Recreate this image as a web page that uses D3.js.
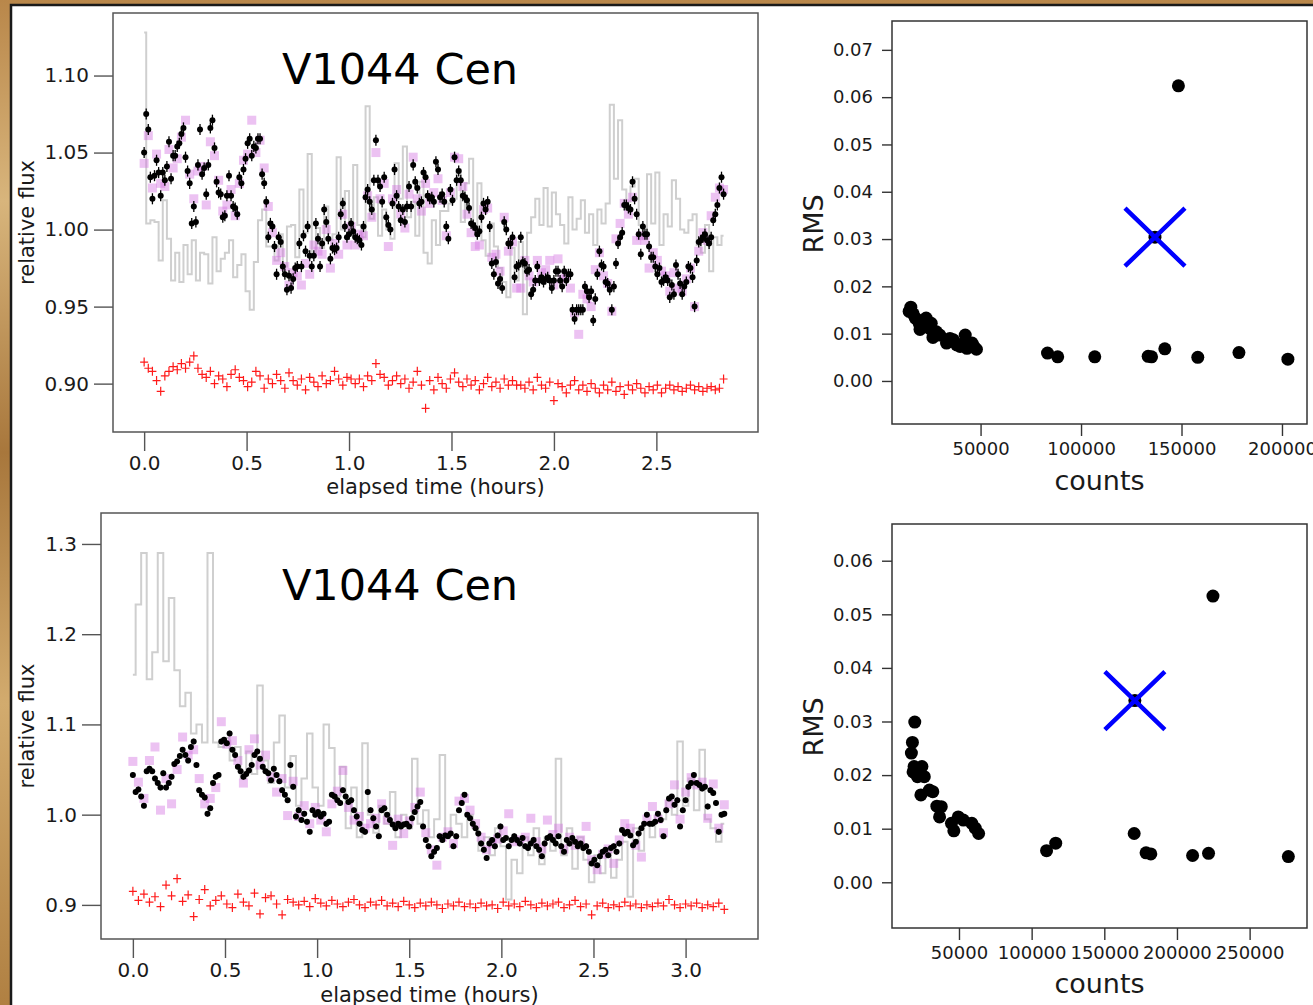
<!DOCTYPE html>
<html>
<head>
<meta charset="utf-8">
<script src="https://cdn.jsdelivr.net/npm/d3@7"></script>
<style>
  body { margin: 0; background: #fff; }
  svg text { font-family: "DejaVu Sans", sans-serif; }
</style>
</head>
<body>
<div id="chart"></div>
<script>
// ---------- Data: first night (top row) ----------
// target light curve, one value per frame
var topCadence = 0.0101;   // hours between frames
var topBlack = [
  1.050, 1.075, 1.065, 1.034, 1.020, 1.035, 1.045, 1.037, 1.022, 1.037,
  1.032, 1.041, 1.057, 1.033, 1.048, 1.048, 1.054, 1.056, 1.062, 1.066,
  1.047, 1.038, 1.030, 1.004, 1.015, 1.005, 1.042, 1.065, 1.036, 1.040,
  1.023, 1.042, 1.066, 1.071, 1.053, 1.031, 1.024, 1.023, 1.008, 1.009,
  1.022, 1.035, 1.022, 1.015, 1.014, 1.010, 1.034, 1.030, 1.039, 1.046,
  1.056, 1.059, 1.048, 1.054, 1.053, 1.059, 1.059, 1.036, 1.030, 1.018,
  0.995, 1.004, 1.002, 0.989, 0.971, 0.995, 0.992, 0.976, 0.971, 0.961,
  0.970, 0.962, 0.968, 0.975, 0.976, 0.991, 0.976, 0.996, 0.986, 1.002,
  0.983, 0.976, 0.983, 1.004, 0.994, 0.976, 0.991, 1.013, 1.005, 0.994,
  0.981, 0.988, 0.987, 0.988, 0.995, 1.010, 1.017, 1.002, 0.995, 0.997,
  1.004, 0.999, 0.995, 0.994, 0.993, 0.990, 1.002, 1.021, 1.026, 1.018,
  1.013, 1.032, 1.058, 1.032, 1.028, 1.018, 1.034, 1.008, 1.003, 1.000,
  1.017, 1.039, 1.022, 1.015, 1.006, 1.013, 1.005, 1.015, 1.028, 1.015,
  1.042, 1.031, 1.027, 1.017, 1.018, 1.037, 1.034, 1.022, 1.020, 1.021,
  1.018, 1.044, 1.039, 1.021, 1.023, 1.018, 1.002, 0.994, 1.026, 1.019,
  1.047, 1.032,
  1.038, 1.032, 1.022, 1.021, 1.019, 1.014, 1.004, 1.003, 1.001, 0.997,
  0.999, 1.008, 1.017, 1.013, 1.018, 1.002, 0.978, 0.971, 0.979, 0.965,
  0.968, 0.962, 1.005, 1.000, 0.991, 0.991, 0.995, 0.969, 0.976, 0.977,
  0.995, 0.979, 0.978, 0.973, 0.974, 0.958, 0.961, 0.967, 0.976, 0.967,
  0.969, 0.966, 0.968, 0.969, 0.967, 0.962, 0.967, 0.973, 0.973, 0.967,
  0.963, 0.973, 0.967, 0.971, 0.971, 0.948, 0.942, 0.948, 0.948, 0.948,
  0.948, 0.963, 0.960, 0.956, 0.960, 0.941, 0.955, 0.971, 0.986, 0.977,
  0.976, 0.966, 0.965, 0.961, 0.948, 0.963, 0.978, 0.991, 0.995, 0.998,
  1.016, 1.016, 1.014, 1.013, 1.031, 1.020, 1.010, 0.997, 0.984, 1.002,
  0.997, 0.997, 0.989, 0.982, 0.982, 0.976, 0.971, 0.975, 0.966, 0.967,
  0.969, 0.967, 0.956, 0.964, 0.958, 0.977, 0.971, 0.965, 0.958, 0.963,
  0.966, 0.976, 0.975, 0.969, 0.950, 0.980, 0.992, 0.993, 0.995, 0.997,
  0.993, 0.991, 0.995, 1.006, 1.010, 1.016, 1.027, 1.034, 1.023
];
// the other series are sampled every second frame
var topCoarse = 0.0202;
var topMagenta = [
  1.043, 1.061, 1.027, 1.049, 1.030, 1.028, 1.052, 1.040, 1.046, 1.060,
  1.071, 1.036, 1.020, 1.038, 1.041, 1.016, 1.057, 1.048, 1.032, 1.012,
  1.016, 1.026, 1.009, 1.030, 1.045, 1.049, 1.071, 1.050, 1.058, 1.040,
  1.015, 0.998, 0.980, 0.985, 0.976, 0.964, 0.972, 0.970, 0.964, 0.978,
  0.971, 0.990, 0.986, 0.984, 1.000, 0.975, 0.991, 0.984, 1.010, 0.990,
  1.002, 0.990, 0.997, 0.996, 1.022, 1.008, 1.050, 1.020, 1.030, 0.989,
  1.020, 1.026, 1.010, 1.001, 1.023, 1.047, 1.020, 1.012, 1.030, 1.017,
  1.024, 1.033, 1.019, 0.996, 1.024, 1.047,
  1.046, 1.028, 1.010, 0.998, 0.989, 0.990, 1.013, 1.014, 0.982, 0.984,
  0.973, 1.008, 0.986, 0.992, 0.962, 0.962, 0.980, 0.970, 0.966, 0.980,
  0.972, 0.974, 0.980, 0.964, 0.981, 0.968, 0.970, 0.962, 0.946, 0.932,
  0.958, 0.955, 0.950, 0.974, 0.985, 0.970, 0.965, 0.947, 0.994, 1.004,
  1.017, 1.010, 1.021, 0.993, 0.996, 0.993, 0.975, 0.985, 0.980, 0.973,
  0.970, 0.960, 0.972, 0.962, 0.960, 0.968, 0.975, 0.950, 0.986, 0.998,
  0.993, 1.009, 1.021, 1.027, 1.026
];
var topGray = [
  1.128, 1.004, 1.006, 1.005, 0.980, 1.019, 0.994, 0.967, 0.985, 0.966,
  0.990, 0.971, 0.993, 0.967, 0.985, 0.984, 0.965, 0.995, 0.973, 0.981,
  0.985, 0.993, 0.969, 0.977, 0.984, 0.960, 0.948, 0.979, 1.006, 1.013,
  0.989, 0.989, 0.980, 0.997, 0.976, 1.002, 1.003, 0.982, 1.026, 0.998,
  1.049, 0.985, 1.001, 0.988, 1.015, 0.993, 0.997, 1.047, 1.000, 1.025,
  0.997, 1.042, 1.003, 0.995, 1.080, 1.007, 1.021, 0.996, 1.013, 1.000,
  0.994, 1.043, 1.020, 1.054, 1.008, 1.018, 0.996, 1.031, 0.985, 0.978,
  1.006, 0.990, 1.012, 1.012, 1.017, 1.020, 1.039, 1.005, 1.030, 1.046,
  1.000, 1.030, 0.993, 0.983, 1.004, 0.989, 0.975, 0.966, 0.956, 0.988,
  0.967, 0.992, 0.945, 0.998, 1.008, 1.020, 1.003, 1.027, 1.002, 1.024,
  1.010, 1.003, 0.991, 1.021, 1.000, 1.007, 1.019, 0.998, 1.010, 0.990,
  1.013, 1.004, 1.017, 1.081, 1.033, 1.071, 1.026, 1.018, 1.028, 1.033,
  1.003, 0.994, 1.036, 1.004, 1.037, 0.990, 1.010, 1.002, 1.032, 1.020,
  1.000, 0.998, 1.006, 1.010, 0.990, 0.985, 1.003, 0.973, 0.995, 0.990,
  0.996
];
var topRed = [
  0.914, 0.910, 0.908, 0.902, 0.895, 0.905, 0.908, 0.911, 0.909, 0.913,
  0.910, 0.914, 0.918, 0.910, 0.906, 0.904, 0.908, 0.900, 0.905, 0.903,
  0.898, 0.906, 0.909, 0.904, 0.902, 0.898, 0.901, 0.908, 0.905, 0.897,
  0.903, 0.900, 0.906, 0.902, 0.897, 0.907, 0.902, 0.899, 0.903, 0.896,
  0.904, 0.901, 0.898, 0.905, 0.900, 0.902, 0.908, 0.903, 0.899, 0.904,
  0.903, 0.900, 0.903, 0.898, 0.905, 0.902, 0.913, 0.906, 0.904, 0.899,
  0.902, 0.905, 0.900, 0.903, 0.897, 0.901, 0.908, 0.899, 0.884, 0.902,
  0.896, 0.904, 0.900, 0.897, 0.903, 0.907, 0.901, 0.898, 0.903, 0.899,
  0.902, 0.896, 0.900, 0.904, 0.898, 0.901, 0.897, 0.903, 0.899, 0.902,
  0.899, 0.899, 0.897, 0.901, 0.896, 0.904, 0.899, 0.897, 0.901, 0.889,
  0.900, 0.898, 0.894, 0.899, 0.902, 0.896, 0.899, 0.895, 0.900, 0.897,
  0.894, 0.899, 0.896, 0.901, 0.895, 0.898, 0.893, 0.899, 0.896, 0.900,
  0.897, 0.894, 0.898, 0.896, 0.899, 0.894, 0.897, 0.899, 0.896, 0.898,
  0.895, 0.897, 0.899, 0.896, 0.898, 0.895, 0.897, 0.898, 0.896, 0.897,
  0.903
];

// ---------- Data: second night (bottom row) ----------
var botCadence = 0.015;
var botBlack = [
  1.044, 1.025, 1.028, 1.020, 1.010, 1.048, 1.051, 1.048, 1.040, 1.035,
  1.030, 1.046, 1.030, 1.035, 1.042, 1.056, 1.059, 1.065, 1.072, 1.066,
  1.060, 1.075, 1.081, 1.055, 1.027, 1.022, 1.019, 1.001, 1.007, 1.035,
  1.042, 1.044, 1.081, 1.083, 1.079, 1.090, 1.072, 1.066, 1.053, 1.048,
  1.042, 1.045, 1.049, 1.055, 1.066, 1.070, 1.062, 1.053, 1.048, 1.046,
  1.038, 1.051, 1.044, 1.037, 1.027, 1.022, 1.016, 1.055, 1.031, 0.998,
  1.005, 0.994, 1.001, 0.992, 0.981, 1.005, 1.000, 1.003, 0.998, 1.001,
  0.990, 0.992, 1.022, 1.020, 1.016, 1.013, 1.027, 1.020, 1.014, 1.016,
  1.005, 0.998, 0.990, 0.983, 0.981, 1.025, 1.005, 0.996, 0.987, 0.976,
  1.005, 1.007, 1.000, 0.994, 0.989, 0.985, 0.990, 0.987, 0.989, 0.990,
  0.987, 0.996, 1.003, 1.009, 1.014, 0.987, 0.972, 0.965, 0.954, 0.959,
  0.963, 0.976, 0.972, 0.977, 0.976, 0.979, 0.965, 0.976, 1.005, 1.013,
  1.022, 1.000, 0.996, 0.990, 0.985, 0.979, 0.968, 0.961, 0.952, 0.968,
  0.972, 0.965, 0.977, 0.987, 0.972, 0.974, 0.965, 0.972, 0.976, 0.972,
  0.968, 0.974, 0.965, 0.963, 0.968, 0.972, 0.965, 0.961, 0.954, 0.968,
  0.974, 0.976, 0.972, 0.968, 0.976, 0.965, 0.959, 0.972, 0.968, 0.974,
  0.970, 0.965, 0.968, 0.963, 0.965, 0.959, 0.946, 0.950, 0.944, 0.954,
  0.959, 0.961, 0.955, 0.963, 0.965, 0.959, 0.968, 0.983, 0.979, 0.981,
  0.977, 0.966, 0.970, 0.979, 0.985, 0.990, 1.000, 0.990, 0.990, 0.992,
  1.001, 0.994, 0.976, 1.005, 1.018, 1.020, 1.011, 1.016, 0.987, 1.005,
  1.016, 1.031, 1.035, 1.044, 1.035, 1.033, 1.029, 1.031, 1.009, 1.027,
  1.024, 1.013, 0.981, 1.000, 1.001
];
var botCoarse = 0.03;
var botMagenta = [
  1.059, 1.036, 1.018, 1.060, 1.075, 1.005, 1.040, 1.012, 1.050, 1.086,
  1.066, 1.072, 1.040, 1.012, 1.018, 1.030, 1.103, 1.078, 1.082, 1.060,
  1.035, 1.072, 1.084, 1.055, 1.066, 1.042, 1.025, 1.040, 0.999, 1.037,
  0.998, 1.010, 0.990, 1.008, 0.994, 0.981, 1.012, 1.026, 1.049, 1.008,
  0.994, 0.998, 0.985, 0.990, 0.996, 1.012, 0.994, 0.966, 0.995, 0.979,
  0.993, 1.008, 1.025, 0.980, 0.961, 0.944, 0.975, 0.981, 0.968, 1.015,
  1.018, 1.005, 0.990, 0.975, 0.961, 0.968, 0.973, 0.982, 1.001, 0.970,
  0.972, 0.975, 0.996, 0.970, 0.962, 0.994, 0.978, 0.985, 0.962, 0.975,
  0.966, 0.972, 0.987, 0.950, 0.939, 0.956, 0.962, 0.946, 0.972, 0.990,
  0.985, 0.966, 0.953, 0.995, 1.009, 0.995, 0.980, 1.012, 1.033, 0.995,
  1.025, 1.041, 1.033, 1.036, 0.996, 1.034, 0.985, 1.011
];
var botGray = [
  1.155, 1.233, 1.290, 1.150, 1.180, 1.290, 1.170, 1.240, 1.160, 1.120,
  1.135, 1.090, 1.100, 1.080, 1.290, 1.080, 1.075, 1.085, 1.060, 1.075,
  1.040, 1.070, 1.045, 1.143, 1.060, 1.035, 1.080, 1.110, 1.030, 1.065,
  1.010, 1.040, 1.090, 1.030, 1.010, 1.100, 1.074, 1.020, 1.053, 0.985,
  1.030, 0.975, 1.079, 1.000, 0.980, 1.010, 0.990, 1.025, 0.975, 1.000,
  0.985, 1.062, 0.990, 1.005, 0.975, 0.995, 1.066, 0.980, 1.000, 0.990,
  0.975, 1.000, 0.985, 0.960, 0.975, 0.955, 0.985, 0.965, 0.906, 0.950,
  0.935, 0.975, 0.955, 0.985, 0.945, 0.975, 0.960, 1.062, 0.955, 0.985,
  0.940, 0.975, 0.950, 0.925, 0.955, 0.935, 0.960, 0.930, 0.950, 0.970,
  0.909, 0.985, 0.960, 0.990, 0.975, 1.000, 0.995, 1.015, 1.000, 1.081,
  1.010, 1.040, 1.005, 1.072, 0.995, 0.985, 0.970, 0.990
];
var botRed = [
  0.915, 0.905, 0.912, 0.903, 0.909, 0.898, 0.922, 0.910, 0.929, 0.904,
  0.911, 0.887, 0.906, 0.917, 0.899, 0.905, 0.910, 0.901, 0.897, 0.912,
  0.903, 0.899, 0.913, 0.890, 0.908, 0.910, 0.901, 0.889, 0.906, 0.903,
  0.900, 0.904, 0.898, 0.907, 0.902, 0.899, 0.905, 0.901, 0.898, 0.903,
  0.906, 0.900, 0.897, 0.903, 0.900, 0.905, 0.899, 0.902, 0.898, 0.904,
  0.900, 0.897, 0.902, 0.899, 0.903, 0.900, 0.896, 0.901, 0.899, 0.903,
  0.898, 0.901, 0.897, 0.902, 0.899, 0.900, 0.896, 0.903, 0.899, 0.901,
  0.898, 0.904, 0.900, 0.897, 0.902, 0.899, 0.901, 0.903, 0.897, 0.900,
  0.905, 0.898, 0.901, 0.889, 0.899, 0.902, 0.897, 0.900, 0.898, 0.903,
  0.899, 0.901, 0.897, 0.900, 0.898, 0.902, 0.899, 0.906, 0.900, 0.897,
  0.901, 0.899, 0.902, 0.897, 0.900, 0.898, 0.902, 0.895
];

// ---------- Data: RMS vs counts of field stars ----------
var topCounts = [15290, 14450, 16480, 17490, 18680, 19520, 19860, 21220, 22910, 23250,
  24600, 25450, 26290, 27980, 29680, 33060, 34750, 36440, 38140, 39830,
  42370, 41520, 43210, 45750, 46600, 47950, 83310, 88390, 106830, 133400,
  135090, 141690, 158100, 178580, 202940, 148460, 136790];
var topRms = [0.0156, 0.0147, 0.0142, 0.0133, 0.0129, 0.0121, 0.0109, 0.0125, 0.0133, 0.0118,
  0.0111, 0.0122, 0.0092, 0.0104, 0.0097, 0.0080, 0.0090, 0.0087, 0.0076, 0.0073,
  0.0097, 0.0080, 0.0069, 0.0080, 0.0073, 0.0067, 0.0059, 0.0051, 0.0051, 0.0052,
  0.0051, 0.0068, 0.0050, 0.0060, 0.0046, 0.0624, 0.0304];
var topTarget = [136790, 0.0304];

var botCounts = [19580, 17950, 17250, 18410, 20280, 21450, 24490, 26130, 23790, 29630,
  31970, 34770, 37810, 36640, 44820, 46460, 49500, 53000, 58840, 61180,
  63520, 19110, 110260, 116570, 170560, 178730, 182000, 210750, 221730, 276650,
  224770, 171020];
var botRms = [0.0299, 0.0261, 0.0241, 0.0206, 0.0203, 0.0197, 0.0216, 0.0197, 0.0163, 0.0172,
  0.0169, 0.0142, 0.0141, 0.0122, 0.0110, 0.0096, 0.0122, 0.0116, 0.0110, 0.0101,
  0.0091, 0.0216, 0.0059, 0.0073, 0.0091, 0.0055, 0.0053, 0.0050, 0.0054, 0.0048,
  0.0534, 0.0339];
var botTarget = [171020, 0.0339];

var starName = "V1044 Cen";

// ---------- Page ----------
var svg = d3.select("#chart").append("svg")
    .attr("width", 1313)
    .attr("height", 1005);

var defs = svg.append("defs");
var grad = defs.append("linearGradient").attr("id", "parch")
    .attr("x1", 0).attr("y1", 0).attr("x2", 0).attr("y2", 1);
[["0%", "#b9874a"], ["20%", "#d8b57c"], ["45%", "#a8773c"], ["70%", "#d2ab6e"], ["100%", "#b08042"]]
    .forEach(function(s) { grad.append("stop").attr("offset", s[0]).attr("stop-color", s[1]); });

svg.append("rect").attr("width", 1313).attr("height", 1005).attr("fill", "url(#parch)");
svg.append("rect")
    .attr("x", 11).attr("y", 5)
    .attr("width", 1320).attr("height", 1020)
    .attr("fill", "#fff")
    .attr("stroke", "#1a1a1a")
    .attr("stroke-width", 2.5);

function styleAxis(ax, size, color) {
    ax.select(".domain").remove();
    ax.selectAll(".tick line").attr("stroke", color).attr("stroke-width", 1.4);
    ax.selectAll(".tick text")
        .attr("fill", "#1a1a1a")
        .style("font-size", size + "px")
        .style("font-family", "DejaVu Sans");
}

// Light curve panel
function drawLightCurve(p) {
    var x = d3.scaleLinear().domain(p.xDomain).range([p.left, p.right]);
    var y = d3.scaleLinear().domain(p.yDomain).range([p.bottom, p.top]);

    var g = svg.append("g");
    defs.append("clipPath").attr("id", p.id)
        .append("rect")
        .attr("x", p.left).attr("y", p.top)
        .attr("width", p.right - p.left).attr("height", p.bottom - p.top);
    var plot = g.append("g").attr("clip-path", "url(#" + p.id + ")");

    // comparison star (grey steps)
    var step = d3.line()
        .curve(d3.curveStep)
        .x(function(d, i) { return x(i * p.coarse); })
        .y(function(d) { return y(d); });
    plot.append("path")
        .datum(p.gray)
        .attr("d", step)
        .attr("fill", "none")
        .attr("stroke", "#cfcfcf")
        .attr("stroke-width", 2);

    // violet squares
    plot.selectAll("mysquare")
        .data(p.magenta)
        .enter().append("rect")
            .attr("x", function(d, i) { return x(i * p.coarse) - 4.5; })
            .attr("y", function(d) { return y(d) - 4.5; })
            .attr("width", 9)
            .attr("height", 9)
            .attr("fill", "#d26ee0")
            .attr("fill-opacity", 0.42);

    // target with error bars
    plot.selectAll("myerr")
        .data(p.black)
        .enter().append("line")
            .attr("x1", function(d, i) { return x(i * p.cadence); })
            .attr("x2", function(d, i) { return x(i * p.cadence); })
            .attr("y1", function(d) { return y(d + p.err); })
            .attr("y2", function(d) { return y(d - p.err); })
            .attr("stroke", "#000")
            .attr("stroke-width", 1.3);
    plot.selectAll("mycircle")
        .data(p.black)
        .enter().append("circle")
            .attr("cx", function(d, i) { return x(i * p.cadence); })
            .attr("cy", function(d) { return y(d); })
            .attr("r", 3)
            .style("fill", "#000");

    // check star offset (red plus)
    plot.selectAll("myplus")
        .data(p.red)
        .enter().append("path")
            .attr("d", function(d, i) {
                var cx = x(i * p.coarse), cy = y(d);
                return "M" + (cx - 4) + "," + cy + "H" + (cx + 4) +
                       "M" + cx + "," + (cy - 4.5) + "V" + (cy + 4.5);
            })
            .attr("stroke", "#ff1a1a")
            .attr("stroke-width", 1.2)
            .attr("fill", "none");

    // frame
    g.append("rect")
        .attr("x", p.left).attr("y", p.top)
        .attr("width", p.right - p.left).attr("height", p.bottom - p.top)
        .attr("fill", "none")
        .attr("stroke", "#555")
        .attr("stroke-width", 1.5);

    var xa = g.append("g")
        .attr("transform", "translate(0," + p.bottom + ")")
        .call(d3.axisBottom(x).tickValues(p.xTicks).tickFormat(d3.format(".1f")).tickSize(19).tickPadding(5));
    styleAxis(xa, 20, "#555");
    var ya = g.append("g")
        .attr("transform", "translate(" + p.left + ",0)")
        .call(d3.axisLeft(y).tickValues(p.yTicks).tickFormat(d3.format(p.yFormat)).tickSize(19).tickPadding(5));
    styleAxis(ya, 20, "#555");

    g.append("text")
        .attr("x", (p.left + p.right) / 2)
        .attr("y", p.xLabelY)
        .attr("text-anchor", "middle")
        .style("font-size", "21px")
        .attr("fill", "#1a1a1a")
        .text("elapsed time (hours)");
    g.append("text")
        .attr("transform", "translate(34," + ((p.top + p.bottom) / 2) + ")rotate(-90)")
        .attr("text-anchor", "middle")
        .style("font-size", "21px")
        .attr("fill", "#1a1a1a")
        .text("relative flux");

    // title
    g.append("text")
        .attr("x", 400)
        .attr("y", p.titleY)
        .attr("text-anchor", "middle")
        .style("font-size", "43px")
        .attr("fill", "#000")
        .text(starName);
}

// RMS scatter panel
function drawRms(p) {
    var x = d3.scaleLinear().domain(p.xDomain).range([p.left, p.right]);
    var y = d3.scaleLinear().domain(p.yDomain).range([p.bottom, p.top]);
    var g = svg.append("g");

    g.selectAll("mydot")
        .data(p.counts)
        .enter().append("circle")
            .attr("cx", function(d) { return x(d); })
            .attr("cy", function(d, i) { return y(p.rms[i]); })
            .attr("r", 6.5)
            .style("fill", "#000");

    // target marked with a blue cross
    var cx = x(p.target[0]), cy = y(p.target[1]);
    g.append("path")
        .attr("d", "M" + (cx - 30) + "," + (cy - 29) + "L" + (cx + 30) + "," + (cy + 29) +
                   "M" + (cx - 30) + "," + (cy + 29) + "L" + (cx + 30) + "," + (cy - 29))
        .attr("stroke", "#0000ff")
        .attr("stroke-width", 4.5)
        .attr("fill", "none");

    g.append("rect")
        .attr("x", p.left).attr("y", p.top)
        .attr("width", p.right - p.left).attr("height", p.bottom - p.top)
        .attr("fill", "none")
        .attr("stroke", "#333")
        .attr("stroke-width", 1.5);

    var xa = g.append("g")
        .attr("transform", "translate(0," + p.bottom + ")")
        .call(d3.axisBottom(x).tickValues(p.xTicks).tickFormat(d3.format("d")).tickSize(12).tickPadding(6));
    styleAxis(xa, 18, "#333");
    var ya = g.append("g")
        .attr("transform", "translate(" + p.left + ",0)")
        .call(d3.axisLeft(y).tickValues(p.yTicks).tickFormat(d3.format(".2f")).tickSize(10).tickPadding(9));
    styleAxis(ya, 18, "#333");

    g.append("text")
        .attr("x", (p.left + p.right) / 2)
        .attr("y", p.xLabelY)
        .attr("text-anchor", "middle")
        .style("font-size", "27px")
        .attr("fill", "#1a1a1a")
        .text("counts");
    g.append("text")
        .attr("transform", "translate(823," + p.yLabelY + ")rotate(-90)")
        .attr("text-anchor", "middle")
        .style("font-size", "27px")
        .attr("fill", "#1a1a1a")
        .text("RMS");
}

drawLightCurve({
    id: "clipTop", left: 113, right: 758, top: 13, bottom: 432,
    xDomain: [-0.152, 2.996], yDomain: [0.8686, 1.1406],
    xTicks: [0, 0.5, 1, 1.5, 2, 2.5], yTicks: [0.90, 0.95, 1.00, 1.05, 1.10], yFormat: ".2f",
    cadence: topCadence, coarse: topCoarse, err: 0.0036,
    black: topBlack, magenta: topMagenta, gray: topGray, red: topRed,
    xLabelY: 494, titleY: 84
});

drawLightCurve({
    id: "clipBot", left: 101, right: 758, top: 513, bottom: 939,
    xDomain: [-0.173, 3.393], yDomain: [0.8622, 1.3343],
    xTicks: [0, 0.5, 1, 1.5, 2, 2.5, 3], yTicks: [0.9, 1.0, 1.1, 1.2, 1.3], yFormat: ".1f",
    cadence: botCadence, coarse: botCoarse, err: 0.003,
    black: botBlack, magenta: botMagenta, gray: botGray, red: botRed,
    xLabelY: 1002, titleY: 600
});

drawRms({
    left: 892, right: 1307, top: 21, bottom: 424,
    xDomain: [5925, 212450], yDomain: [-0.0091, 0.0761],
    xTicks: [50000, 100000, 150000, 200000],
    yTicks: [0, 0.01, 0.02, 0.03, 0.04, 0.05, 0.06, 0.07],
    counts: topCounts, rms: topRms, target: topTarget,
    xLabelY: 490, yLabelY: 224
});

drawRms({
    left: 892, right: 1307, top: 524, bottom: 928,
    xDomain: [3906, 289480], yDomain: [-0.00853, 0.06685],
    xTicks: [50000, 100000, 150000, 200000, 250000],
    yTicks: [0, 0.01, 0.02, 0.03, 0.04, 0.05, 0.06],
    counts: botCounts, rms: botRms, target: botTarget,
    xLabelY: 993, yLabelY: 727
});
</script>
</body>
</html>
